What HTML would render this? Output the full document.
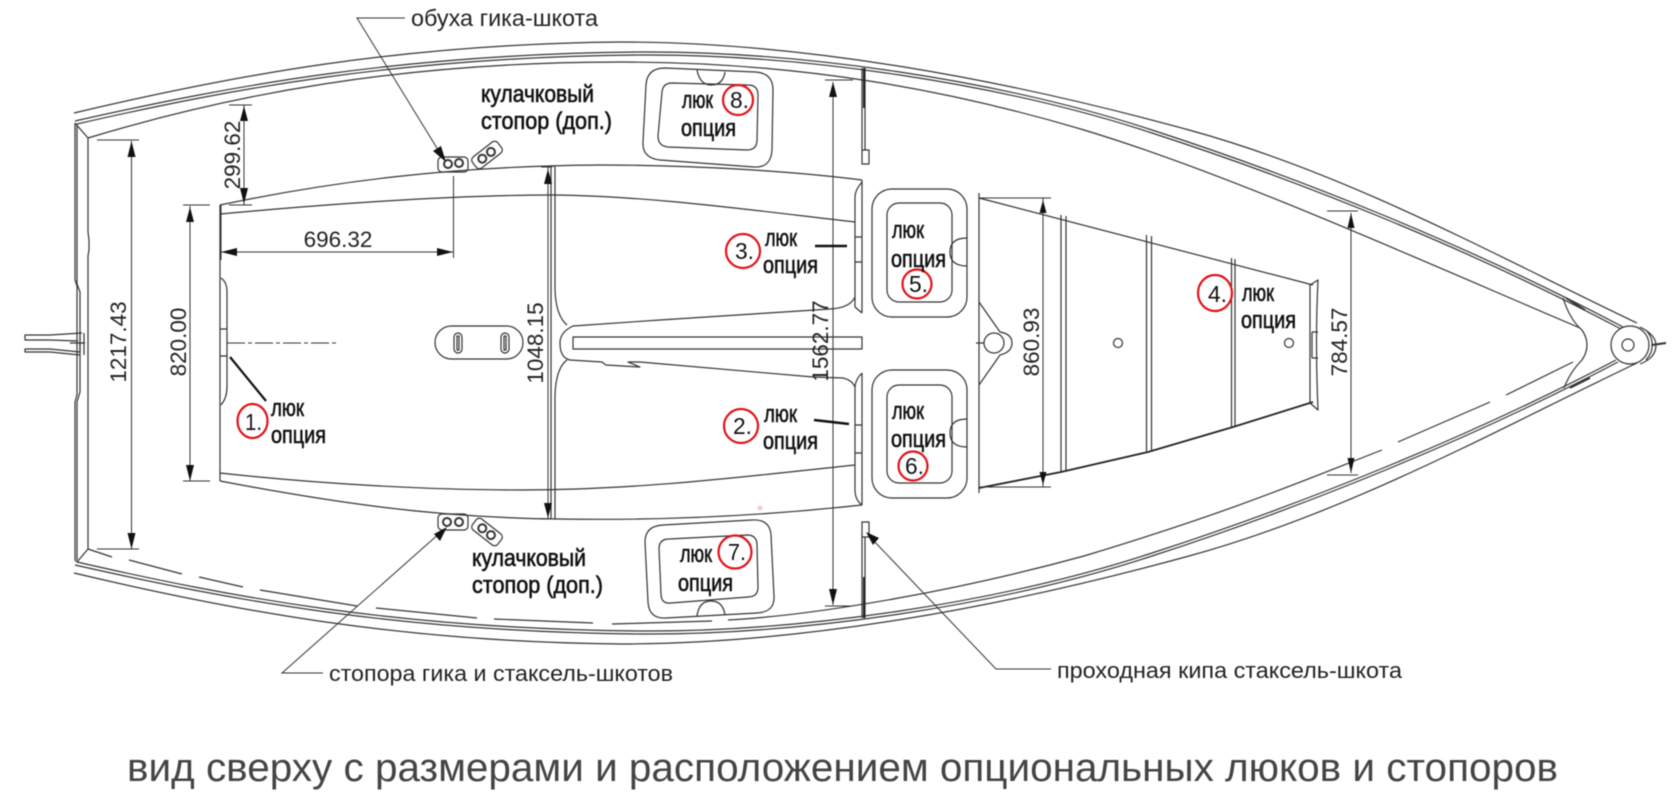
<!DOCTYPE html>
<html lang="ru"><head><meta charset="utf-8"><title>вид сверху</title>
<style>
html,body{margin:0;padding:0;background:#fff;width:1680px;height:800px;overflow:hidden}
svg{display:block;filter:blur(.45px)}
.l{fill:none;stroke:#333;stroke-width:1.2;stroke-linejoin:round}
.d{fill:none;stroke:#333;stroke-width:1}
.a{fill:#111;stroke:none}
.t{font-family:"Liberation Sans",sans-serif;fill:#222}
.dim{font-family:"Liberation Sans",sans-serif;font-size:22.5px;fill:#222;text-anchor:middle}
.h{font-family:"Liberation Sans",sans-serif;font-size:24px;fill:#111;stroke:#111;stroke-width:.6}
.n{font-family:"Liberation Sans",sans-serif;font-size:23px;fill:#111}
.r{fill:none;stroke:#e01218;stroke-width:2.2}
</style></head><body>
<svg width="1680" height="800" viewBox="0 0 1680 800" xmlns="http://www.w3.org/2000/svg">
<!-- hull top -->
<path class="l" d="M74,113C230,76 400,44 620,42C800,42 1000,78 1189,130C1350,174 1500,258 1637,323"/>
<path class="l" d="M75,121C230,86 400,54 640,52C800,51 1000,80 1152,130C1300,178 1470,246 1623,327"/>
<path class="l" d="M77,124C230,89 400,57 640,55C800,54 1000,83 1152,133C1300,181 1470,249 1621,329"/>
<path class="l" d="M88,138C230,95 400,62 620,62C800,62 950,90 1084,130C1230,174 1420,260 1580,328"/>
<!-- hull bottom -->
<path class="l" d="M74,573C230,610 400,642 620,644C800,644 1000,608 1189,556C1350,512 1500,428 1637,363"/>
<path class="l" d="M75,565C230,600 400,632 640,634C800,635 1000,606 1152,556C1300,508 1470,440 1618,362"/>
<path class="l" d="M77,562C230,597 400,629 640,631C800,632 1000,603 1152,553C1300,505 1470,437 1616,360"/>
<path class="l" d="M88,549L112,557M129,560L182,574M199,577L243,587M260,590L357,606M376,608L477,618M494,619L593,623M612,624L712,621"/>
<path class="l" d="M728,620C820,615 960,590 1084,556C1230,512 1300,482 1382,450"/>
<path class="l" d="M1398,442L1490,402M1506,395L1573,362"/>
<!-- stern -->
<path class="l" d="M75,123V280L77,286V395L75,402V560L77,562M77,124V284L80,292V392L77,402V560M88,138V232L89,240V250L88,256V549M75,123L88,138M77,562L88,549"/>
<!-- rudder -->
<path class="l" d="M82,333L50,335H25V340H50L78,341M80,352L50,349H25V352H50L80,355M70,343H85M84,333V355M80,336V352"/>
<!-- cockpit -->
<path class="l" d="M220,205V481"/>
<path class="l" d="M220,205C330,182 450,166 600,165C700,165 800,172 862,180"/>
<path class="l" d="M220,214C340,203 460,195 553,195C650,196 750,210 855,222"/>
<path class="l" d="M220,473C320,484 430,490 520,490C640,490 750,476 855,465"/>
<path class="l" d="M220,481C320,500 430,518 560,519C680,521 780,514 862,505"/>
<path class="l" d="M221,278Q227,282 227,292V387Q227,398 221,405M220,329H227V356H220"/>
<path class="d" stroke-dasharray="18 3 4 3" d="M227,343H336"/>
<!-- thwart -->
<path class="l" d="M551,167V519M555,167V290Q556,316 567,325M555,519V395Q556,368 567,360"/>
<path class="l" d="M549,167Q552,166 556,166"/>
<path class="l" d="M855,297Q850,308 830,309L660,320L573,326Q560,332 560,343Q560,358 570,360L602,362L606,365L640,367L628,362L640,362L813,377L843,378Q852,380 855,387"/>
<rect class="l" x="573" y="337" width="289" height="12"/>
<rect class="l" x="435" y="326" width="88" height="33" rx="16.5"/>
<rect class="l" x="454" y="333" width="8" height="20" rx="4"/><rect class="l" x="457" y="336" width="2" height="14"/>
<rect class="l" x="501" y="333" width="8" height="20" rx="4"/><rect class="l" x="504" y="336" width="2" height="14"/>
<!-- curved plates -->
<path class="l" d="M862,180V313M862,182Q855,190 855,197V307L862,313M855,237H862V262H855"/>
<path class="l" d="M862,373V505M862,373Q855,380 855,388V490Q855,500 862,505M855,425H862V453H855"/>
<!-- stanchions -->
<path class="l" d="M862,68V150M865,68V150"/><path d="M864,68V108" stroke="#222" stroke-width="2"/>
<rect class="l" x="862" y="150" width="7" height="14"/>
<rect class="l" x="862" y="522" width="7" height="15"/>
<path class="l" d="M862,537V618M865,537V618"/><path d="M864,577V618" stroke="#222" stroke-width="2"/>
<!-- hatches -->
<path class="l" d="M665,68L755,72Q773,73 773,90L772,150Q771,168 754,167L660,160Q642,158 643,142L646,85Q647,68 665,68Z"/>
<path class="l" d="M672,83L748,85Q758,85 758,95L757,140Q757,150 747,150L668,147Q658,146 658,136L662,92Q663,83 672,83Z"/>
<path class="l" d="M697,70Q700,85 711,85Q723,85 725,72"/>
<path class="l" d="M663,525L752,520Q770,519 771,535L774,596Q775,612 757,613L666,618Q649,619 648,602L645,542Q645,526 663,525Z"/>
<path class="l" d="M669,539L747,535Q757,535 757,545L758,587Q758,597 748,597L671,603Q661,604 661,594L659,549Q659,539 669,539Z"/>
<path class="l" d="M697,616Q699,601 711,601Q723,601 725,615"/>
<rect class="l" x="872" y="189" width="95" height="128" rx="20"/>
<rect class="l" x="887" y="203" width="65" height="99" rx="12"/>
<path class="l" d="M967,238Q950,238 950,252Q950,266 967,266"/>
<rect class="l" x="872" y="370" width="95" height="128" rx="20"/>
<rect class="l" x="887" y="385" width="65" height="98" rx="12"/>
<path class="l" d="M967,419Q950,419 950,433Q950,447 967,447"/>
<!-- foredeck -->
<path class="l" d="M979,193V493M979,198L1313,285"/>
<path d="M979,488L1061,472L1148,452L1233,427L1313,402" fill="none" stroke="#222" stroke-width="1.8"/>
<path class="l" d="M1061,215V472M1066,216V470M1146.5,235V452M1151.5,236V451M1231.5,258V427M1235,259V426"/>
<circle class="l" cx="1118" cy="343" r="4.5"/><circle class="l" cx="1289" cy="343" r="4.5"/>
<path class="l" d="M1310,285L1318,280Q1315,340 1318,410L1310,403ZM1312,332H1318M1312,358H1318M1312,332V358"/>
<path class="l" d="M979,302L1000,332Q1012,334 1012,343Q1012,352 1000,355L979,385M976,343H984"/>
<circle class="l" cx="994" cy="343" r="10"/>
<!-- bow -->
<circle class="l" cx="1630" cy="345" r="19" style="fill:#fff"/>
<circle class="l" cx="1628" cy="345" r="6"/>
<path class="l" d="M1640,327Q1656,335 1656,345Q1656,358 1640,364M1646,330Q1653,338 1652,345Q1653,352 1646,360"/>
<path d="M1652,345L1666,343" stroke="#333" stroke-width="2"/>
<path class="l" d="M1563,298Q1570,320 1582,330Q1592,345 1582,360Q1570,372 1564,388"/>
<path d="M1566,298L1585,310M1570,388L1590,378" stroke="#333" stroke-width="1.8"/>
<!-- cleats -->
<g class="l"><rect x="438" y="157" width="30" height="15" rx="4"/><circle cx="448" cy="164" r="4" stroke-width="2"/><circle cx="459" cy="163" r="4" stroke-width="2"/>
<g transform="rotate(-38 487 155)"><rect x="471" y="148" width="32" height="14" rx="4"/><circle cx="481" cy="155" r="4" stroke-width="2"/><circle cx="492" cy="155" r="4" stroke-width="2"/></g>
<rect x="438" y="514" width="30" height="16" rx="4"/><circle cx="447" cy="522" r="4" stroke-width="2"/><circle cx="459" cy="522" r="4" stroke-width="2"/>
<g transform="rotate(38 487 532)"><rect x="471" y="525" width="32" height="14" rx="4"/><circle cx="481" cy="532" r="4" stroke-width="2"/><circle cx="492" cy="532" r="4" stroke-width="2"/></g></g>
<circle cx="760" cy="508" r="1.6" fill="none" stroke="#e88" stroke-width=".8"/>
<!-- dimensions -->
<g class="d">
<path d="M131.5,141V549M97,140H139M97,549H139"/>
<path d="M190,206V481M183,205H210M183,481H210"/>
<path d="M244,105V205M229,105H252M229,205H252"/>
<path d="M221,252H453M453.5,176V258M221,205V260"/>
<path d="M548,167V519M541,167H552M541,519H552"/>
<path d="M833,82V605M825,80H853M825,606H853"/>
<path d="M1043,198V487M979,198H1051M979,487H1051"/>
<path d="M1351,213V473M1327,211H1358M1327,475H1358"/>
</g>
<g class="a">
<path d="M131.5,141l-4,16h8zM131.5,549l-4,-16h8z"/>
<path d="M190,207l-4,15h8zM190,481l-4,-16h8z"/>
<path d="M244,106l-4,15h8zM244,204l-4,-16h8z"/>
<path d="M221,252l16,-4v8zM453,252l-16,-4v8z"/>
<path d="M548,169l-4,15h8zM548,518l-4,-15h8z"/>
<path d="M833,82l-4,15h8zM833,605l-4,-16h8z"/>
<path d="M1043,200l-3.5,13h7zM1043,485l-3.5,-13h7z"/>
<path d="M1351,213l-3.5,15h7zM1351,473l-3.5,-15h7z"/>
</g>
<text class="dim" transform="translate(126,342) rotate(-90)">1217.43</text>
<text class="dim" transform="translate(186,342) rotate(-90)">820.00</text>
<text class="dim" transform="translate(240,155) rotate(-90)">299.62</text>
<text class="dim" x="338" y="247">696.32</text>
<text class="dim" transform="translate(543,343) rotate(-90)">1048.15</text>
<text class="dim" transform="translate(828,341) rotate(-90)">1562.77</text>
<text class="dim" transform="translate(1039,342) rotate(-90)">860.93</text>
<text class="dim" transform="translate(1347,342) rotate(-90)">784.57</text>
<!-- leaders -->
<path class="d" d="M405,18H357L440,153M323,673H282L441,532M1051,669H996L872,539"/>
<g class="a">
<path d="M446,162L433,151L441,146Z"/>
<path d="M447,527L434,534L440,541Z"/>
<path d="M866,532L879,538L873,545Z"/>
</g>
<path d="M230,357L266,401" stroke="#111" stroke-width="2.2"/>
<path d="M815,246H847" stroke="#111" stroke-width="2.4"/>
<path d="M814,420L849,424" stroke="#111" stroke-width="2.4"/>
<!-- red circles -->
<ellipse class="r" cx="252.5" cy="421" rx="15" ry="17"/>
<circle class="r" cx="741" cy="426" r="17"/>
<circle class="r" cx="743" cy="251" r="17"/>
<ellipse class="r" cx="1215" cy="293" rx="17" ry="18"/>
<circle class="r" cx="917" cy="284" r="14.5"/>
<circle class="r" cx="913" cy="466" r="14.5"/>
<circle class="r" cx="735" cy="552" r="16.5"/>
<circle class="r" cx="738" cy="100" r="15"/>
<text class="n" x="245" y="430" textLength="17" lengthAdjust="spacingAndGlyphs">1.</text>
<text class="n" x="733" y="434" textLength="19" lengthAdjust="spacingAndGlyphs">2.</text>
<text class="n" x="735" y="259" textLength="19" lengthAdjust="spacingAndGlyphs">3.</text>
<text class="n" x="1208" y="302" textLength="19" lengthAdjust="spacingAndGlyphs">4.</text>
<text class="n" x="909" y="292" textLength="19" lengthAdjust="spacingAndGlyphs">5.</text>
<text class="n" x="905" y="474" textLength="19" lengthAdjust="spacingAndGlyphs">6.</text>
<text class="n" x="728" y="560" textLength="18" lengthAdjust="spacingAndGlyphs">7.</text>
<text class="n" x="730" y="108" textLength="19" lengthAdjust="spacingAndGlyphs">8.</text>
<!-- hatch labels -->
<g class="h">
<text x="271" y="416" textLength="33" lengthAdjust="spacingAndGlyphs">люк</text><text x="271" y="443" textLength="55" lengthAdjust="spacingAndGlyphs">опция</text>
<text x="764" y="422" textLength="33" lengthAdjust="spacingAndGlyphs">люк</text><text x="763" y="449" textLength="55" lengthAdjust="spacingAndGlyphs">опция</text>
<text x="765" y="246" textLength="32" lengthAdjust="spacingAndGlyphs">люк</text><text x="763" y="273" textLength="55" lengthAdjust="spacingAndGlyphs">опция</text>
<text x="682" y="108" textLength="31" lengthAdjust="spacingAndGlyphs">люк</text><text x="681" y="136" textLength="55" lengthAdjust="spacingAndGlyphs">опция</text>
<text x="892" y="238" textLength="32" lengthAdjust="spacingAndGlyphs">люк</text><text x="891" y="267" textLength="55" lengthAdjust="spacingAndGlyphs">опция</text>
<text x="892" y="419" textLength="32" lengthAdjust="spacingAndGlyphs">люк</text><text x="891" y="447" textLength="55" lengthAdjust="spacingAndGlyphs">опция</text>
<text x="680" y="562" textLength="32" lengthAdjust="spacingAndGlyphs">люк</text><text x="678" y="591" textLength="55" lengthAdjust="spacingAndGlyphs">опция</text>
<text x="1242" y="301" textLength="32" lengthAdjust="spacingAndGlyphs">люк</text><text x="1241" y="328" textLength="55" lengthAdjust="spacingAndGlyphs">опция</text>
<text x="481" y="102" textLength="113" lengthAdjust="spacingAndGlyphs">кулачковый</text>
<text x="481" y="129" textLength="131" lengthAdjust="spacingAndGlyphs">стопор (доп.)</text>
<text x="472" y="566" textLength="114" lengthAdjust="spacingAndGlyphs">кулачковый</text>
<text x="472" y="593" textLength="131" lengthAdjust="spacingAndGlyphs">стопор (доп.)</text>
</g>
<!-- callouts -->
<text class="t" x="411" y="26" font-size="23" textLength="187" lengthAdjust="spacingAndGlyphs">обуха гика-шкота</text>
<text class="t" x="329" y="681" font-size="22" textLength="344" lengthAdjust="spacingAndGlyphs">стопора гика и стаксель-шкотов</text>
<text class="t" x="1057" y="678" font-size="22" textLength="345" lengthAdjust="spacingAndGlyphs">проходная кипа стаксель-шкота</text>
<text class="t" x="127" y="781" font-size="40" style="fill:#444" textLength="1431" lengthAdjust="spacingAndGlyphs">вид сверху с размерами и расположением опциональных люков и стопоров</text>
</svg>
</body></html>
